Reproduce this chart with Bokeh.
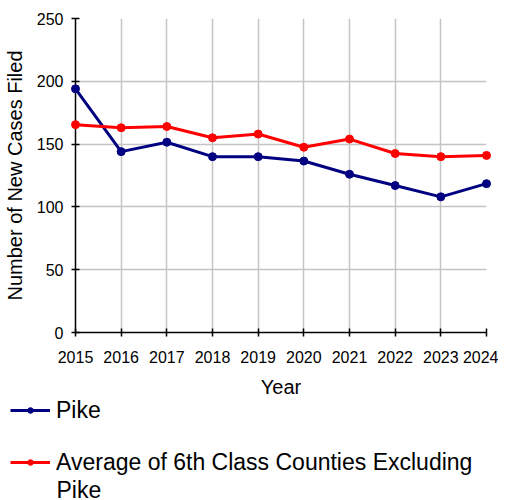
from bokeh.plotting import figure
from bokeh.models import Range1d, Legend, LegendItem, Label, FixedTicker
from bokeh.layouts import column, row
from bokeh.embed import file_html
from bokeh.resources import INLINE

years = [2015, 2016, 2017, 2018, 2019, 2020, 2021, 2022, 2023, 2024]
pike = [194, 144, 151.5, 140, 140, 136.5, 126, 117, 108, 118.5]
avg_6th = [165.5, 163, 164, 155, 158, 147.5, 154, 142.5, 140, 141]
y_ticks = [0, 50, 100, 150, 200, 250]
series_names = ["Pike", "Average of 6th Class Counties Excluding", "Pike"]

FONT = "Liberation Sans"
NAVY = "#000080"
RED = "#ff0000"

p = figure(width=498, height=400, output_backend="svg", toolbar_location=None,
           x_range=Range1d(2015, 2024), y_range=Range1d(0, 250),
           min_border_left=67, min_border_right=12, min_border_top=18, min_border_bottom=68)
p.outline_line_color = None
p.background_fill_color = "white"
p.border_fill_color = "white"

for ax in (p.xaxis[0], p.yaxis[0]):
    ax.axis_line_color = "black"
    ax.axis_line_width = 1.5
    ax.major_tick_line_color = "black"
    ax.major_tick_line_width = 1.5
    ax.major_tick_in = 4
    ax.major_tick_out = 4
    ax.minor_tick_line_color = None
    ax.major_label_text_font = FONT
    ax.major_label_text_font_size = "16px"
    ax.major_label_text_color = "black"
    ax.axis_label_text_font = FONT
    ax.axis_label_text_font_size = "20px"
    ax.axis_label_text_font_style = "normal"
    ax.axis_label_text_color = "black"

p.xaxis.ticker = FixedTicker(ticks=years)
p.yaxis.ticker = FixedTicker(ticks=y_ticks)
p.xaxis.axis_label = "Year"
p.yaxis.axis_label = "Number of New Cases Filed"
p.xaxis.major_label_standoff = 14
p.yaxis.major_label_standoff = 8
p.xaxis.axis_label_standoff = 10
p.yaxis.axis_label_standoff = 8

p.xgrid.ticker = FixedTicker(ticks=years)
p.ygrid.ticker = FixedTicker(ticks=y_ticks)
p.grid.grid_line_color = "#c4c4c4"
p.grid.grid_line_width = 1.5

p.line(years, pike, line_color=NAVY, line_width=3, level="overlay")
p.scatter(years, pike, size=8, fill_color=NAVY, line_color=NAVY, level="overlay")
p.line(years, avg_6th, line_color=RED, line_width=3, level="overlay")
p.scatter(years, avg_6th, size=8, fill_color=RED, line_color=RED, level="overlay")

# legend panel below the chart (series drawn outside its ranges, only the key shows)
q = figure(width=498, height=98, output_backend="svg", toolbar_location=None,
           x_axis_type=None, y_axis_type=None,
           x_range=Range1d(0, 1), y_range=Range1d(0, 1),
           min_border_left=0, min_border_right=0, min_border_top=0, min_border_bottom=0)
q.outline_line_color = None
q.grid.visible = False
q.background_fill_color = "white"
q.border_fill_color = "white"

k1 = q.line(years, pike, line_color=NAVY, line_width=3)
m1 = q.scatter(years, pike, fill_color=NAVY, line_color=NAVY)
k2 = q.line(years, avg_6th, line_color=RED, line_width=3)
m2 = q.scatter(years, avg_6th, fill_color=RED, line_color=RED)

legend = Legend(items=[
    LegendItem(label=series_names[0], renderers=[k1, m1]),
    LegendItem(label=series_names[1], renderers=[k2, m2]),
], location=(10, 22))
legend.orientation = "vertical"
legend.padding = 0
legend.margin = 0
legend.spacing = 24
legend.glyph_width = 40
legend.glyph_height = 14
legend.label_height = 28
legend.label_standoff = 6
legend.label_text_font = FONT
legend.label_text_font_size = "23px"
legend.label_text_color = "black"
legend.border_line_color = None
legend.background_fill_alpha = 0
q.add_layout(legend, "center")

wrap = Label(x=56, y=9, x_units="screen", y_units="screen", text=series_names[2],
             text_font=FONT, text_font_size="23px", text_color="black",
             text_baseline="middle", text_align="left")
q.add_layout(wrap)

layout = column(p, row(q), spacing=0)
open("out.html", "w").write(file_html(layout, INLINE))
